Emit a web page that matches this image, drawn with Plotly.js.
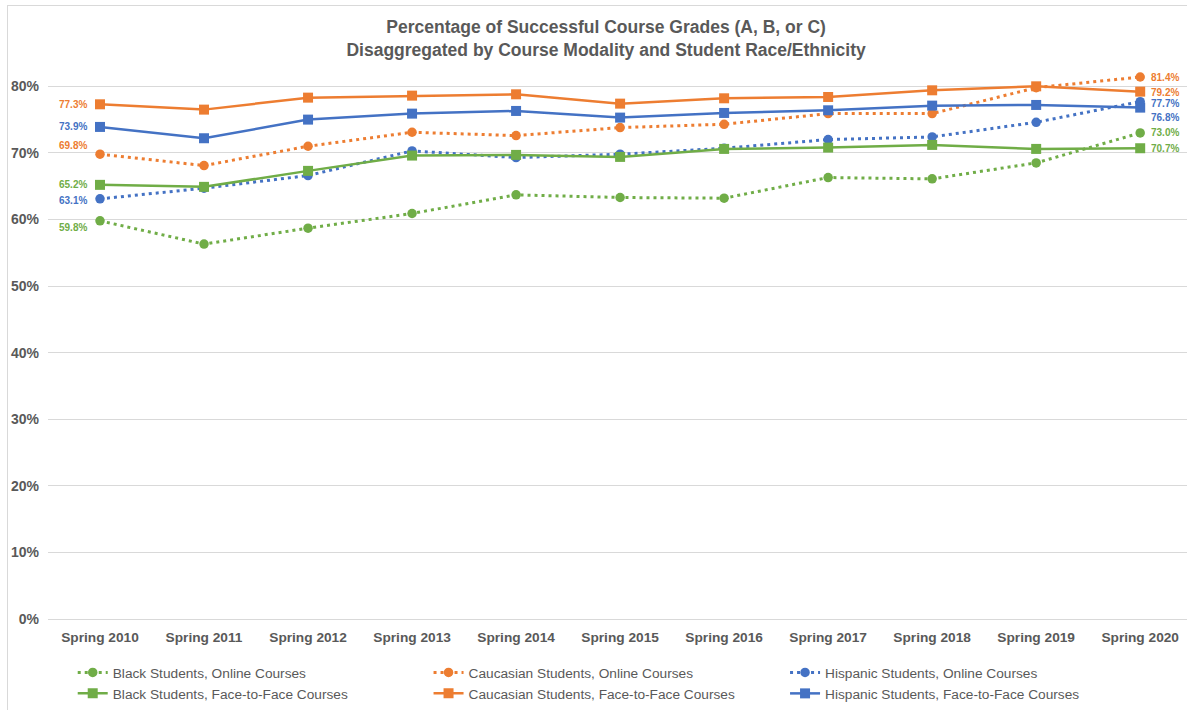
<!DOCTYPE html>
<html>
<head>
<meta charset="utf-8">
<script src="https://cdn.plot.ly/plotly-3.0.1.min.js"></script>
<style>
  html, body { margin: 0; padding: 0; background: #ffffff; overflow: hidden; }
  #wrap { position: relative; width: 1187px; height: 710px; }
  #chart { position: absolute; left: 0; top: 0; width: 1187px; height: 710px; }
  #frame { position: absolute; left: 7px; top: 5px; width: 1200px; height: 720px;
           border: 1px solid #d9d9d9; pointer-events: none; box-sizing: border-box; }
</style>
</head>
<body>
<div id="wrap">
  <div id="chart"></div>
  <div id="frame"></div>
</div>
<script>
// ---- data (percent) ----
const categories = ['Spring 2010','Spring 2011','Spring 2012','Spring 2013','Spring 2014','Spring 2015',
                    'Spring 2016','Spring 2017','Spring 2018','Spring 2019','Spring 2020'];
const blackOnline = [59.8, 56.3, 58.7, 60.9, 63.7, 63.3, 63.2, 66.3, 66.1, 68.5, 73.0];
const caucOnline  = [69.8, 68.1, 71.0, 73.1, 72.6, 73.8, 74.3, 75.9, 75.9, 79.8, 81.4];
const hispOnline  = [63.1, 64.7, 66.6, 70.3, 69.3, 69.8, 70.7, 72.0, 72.4, 74.6, 77.7];
const blackF2F    = [65.2, 64.9, 67.3, 69.6, 69.7, 69.4, 70.6, 70.8, 71.2, 70.6, 70.7];
const caucF2F     = [77.3, 76.5, 78.3, 78.6, 78.8, 77.4, 78.2, 78.4, 79.4, 80.0, 79.2];
const hispF2F     = [73.9, 72.2, 75.0, 75.9, 76.3, 75.3, 76.0, 76.4, 77.1, 77.2, 76.8];
const seriesNames = ['Black Students, Online Courses', 'Caucasian Students, Online Courses',
                     'Hispanic Students, Online Courses', 'Black Students, Face-to-Face Courses',
                     'Caucasian Students, Face-to-Face Courses', 'Hispanic Students, Face-to-Face Courses'];
const yTicks = [0, 10, 20, 30, 40, 50, 60, 70, 80];

// ---- styles ----
const GREEN = '#70AD47', ORANGE = '#ED7D31', BLUE = '#4472C4', GREY = '#595959';
const FONT = 'Arial, "Liberation Sans", sans-serif';

// legend placement: column x (paper), row y (paper)
const colX = [0.0217, 0.3341, 0.6471];
const rowY = [-0.0696, -0.108];

const series = [
  {y: blackOnline, color: GREEN,  online: true,  col: 0, row: 0, first: -7, last: 0},
  {y: caucOnline,  color: ORANGE, online: true,  col: 1, row: 0, first: 9,  last: 0},
  {y: hispOnline,  color: BLUE,   online: true,  col: 2, row: 0, first: -2, last: -2},
  {y: blackF2F,    color: GREEN,  online: false, col: 0, row: 1, first: 0,  last: 0},
  {y: caucF2F,     color: ORANGE, online: false, col: 1, row: 1, first: 0,  last: -1},
  {y: hispF2F,     color: BLUE,   online: false, col: 2, row: 1, first: 0,  last: -10}
];

const traces = series.map((s, i) => ({
  type: 'scatter',
  mode: 'lines+markers',
  name: seriesNames[i],
  x: categories,
  y: s.y,
  legend: i === 0 ? 'legend' : 'legend' + (i + 1),
  cliponaxis: false,
  line: {color: s.color, width: s.online ? 3 : 2.5, dash: s.online ? '3px,4px' : 'solid'},
  marker: {color: s.color, size: s.online ? 9.5 : 10, symbol: s.online ? 'circle' : 'square'},
  hoverinfo: 'skip'
}));

const annotations = [];
series.forEach(s => {
  const n = s.y.length;
  annotations.push({
    x: categories[0], y: s.y[0], xref: 'x', yref: 'y',
    text: s.y[0].toFixed(1) + '%', showarrow: false,
    xanchor: 'right', yanchor: 'middle', xshift: -11, yshift: s.first,
    font: {family: FONT, size: 10, color: s.color, weight: 'bold'}
  });
  annotations.push({
    x: categories[n - 1], y: s.y[n - 1], xref: 'x', yref: 'y',
    text: s.y[n - 1].toFixed(1) + '%', showarrow: false,
    xanchor: 'left', yanchor: 'middle', xshift: 9, yshift: s.last,
    font: {family: FONT, size: 10, color: s.color, weight: 'bold'}
  });
});

const layout = {
  width: 1187, height: 710,
  margin: {l: 48, r: 0, t: 72.7, b: 91.3, pad: 0},
  paper_bgcolor: '#ffffff', plot_bgcolor: '#ffffff',
  font: {family: FONT, color: GREY},
  title: {
    text: 'Percentage of Successful Course Grades (A, B, or C)<br>Disaggregated by Course Modality and Student Race/Ethnicity',
    font: {family: FONT, size: 17.5, color: GREY, weight: 'bold'},
    x: 0.49, xref: 'paper', xanchor: 'center', y: 0.953, yref: 'container', yanchor: 'middle'
  },
  xaxis: {
    type: 'category', range: [-0.5, 10.45], fixedrange: true,
    showgrid: false, zeroline: false, showline: false, ticks: '',
    tickfont: {family: FONT, size: 13.7, color: GREY, weight: 'bold'},
    ticklabelstandoff: 8
  },
  yaxis: {
    range: [0, 82], tickvals: yTicks, ticktext: yTicks.map(v => v + '%'),
    showgrid: true, gridcolor: '#d9d9d9', gridwidth: 1,
    zeroline: true, zerolinecolor: '#d9d9d9', zerolinewidth: 1,
    showline: false, ticks: '', fixedrange: true,
    tickfont: {family: FONT, size: 14, color: GREY, weight: 'bold'},
    ticklabelstandoff: 8
  },
  showlegend: true,
  annotations: annotations,
  hovermode: false
};

series.forEach((s, i) => {
  const key = i === 0 ? 'legend' : 'legend' + (i + 1);
  layout[key] = {
    orientation: 'v', xanchor: 'left', yanchor: 'top',
    x: colX[s.col], y: rowY[s.row],
    bgcolor: 'rgba(0,0,0,0)', borderwidth: 0,
    font: {family: FONT, size: 13.7, color: GREY},
    itemwidth: 30
  };
});

Plotly.newPlot('chart', traces, layout, {displayModeBar: false, staticPlot: true});
</script>
</body>
</html>
